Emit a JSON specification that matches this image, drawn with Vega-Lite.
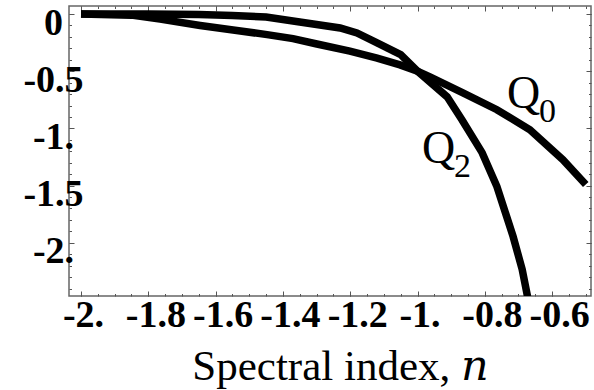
{
  "$schema": "https://vega.github.io/schema/vega-lite/v6.json",
  "width": 522,
  "height": 290,
  "autosize": {"type": "none"},
  "padding": {"left": 69, "top": 6, "right": 3, "bottom": 94},
  "background": "white",
  "config": {
    "view": {"stroke": "#666666", "strokeWidth": 1.5},
    "axis": {
      "domain": false,
      "grid": false,
      "tickColor": "#555555",
      "tickWidth": 1,
      "labelFont": "Liberation Serif",
      "labelFontWeight": "bold",
      "labelFontSize": 38,
      "labelColor": "black",
      "labelOverlap": false,
      "labelFlush": false,
      "labelBound": false,
      "titleFont": "Liberation Serif, DejaVu Serif",
      "titleFontWeight": "normal",
      "titleColor": "black"
    }
  },
  "datasets": {
    "curves": [
      {"n": -2.0, "Q": 0.0, "series": "Q0"},
      {"n": -1.85, "Q": -0.01, "series": "Q0"},
      {"n": -1.765, "Q": -0.045, "series": "Q0"},
      {"n": -1.646, "Q": -0.1, "series": "Q0"},
      {"n": -1.548, "Q": -0.14, "series": "Q0"},
      {"n": -1.447, "Q": -0.18, "series": "Q0"},
      {"n": -1.37, "Q": -0.215, "series": "Q0"},
      {"n": -1.299, "Q": -0.262, "series": "Q0"},
      {"n": -1.201, "Q": -0.325, "series": "Q0"},
      {"n": -1.12, "Q": -0.385, "series": "Q0"},
      {"n": -1.052, "Q": -0.445, "series": "Q0"},
      {"n": -1.0, "Q": -0.5, "series": "Q0"},
      {"n": -0.963, "Q": -0.549, "series": "Q0"},
      {"n": -0.865, "Q": -0.689, "series": "Q0"},
      {"n": -0.764, "Q": -0.837, "series": "Q0"},
      {"n": -0.666, "Q": -1.011, "series": "Q0"},
      {"n": -0.568, "Q": -1.273, "series": "Q0"},
      {"n": -0.5, "Q": -1.49, "series": "Q0"},
      {"n": -2.0, "Q": 0.0, "series": "Q2"},
      {"n": -1.8, "Q": 0.0, "series": "Q2"},
      {"n": -1.65, "Q": -0.005, "series": "Q2"},
      {"n": -1.55, "Q": -0.012, "series": "Q2"},
      {"n": -1.45, "Q": -0.027, "series": "Q2"},
      {"n": -1.35, "Q": -0.07, "series": "Q2"},
      {"n": -1.23, "Q": -0.122, "series": "Q2"},
      {"n": -1.18, "Q": -0.166, "series": "Q2"},
      {"n": -1.12, "Q": -0.253, "series": "Q2"},
      {"n": -1.05, "Q": -0.355, "series": "Q2"},
      {"n": -1.0, "Q": -0.5, "series": "Q2"},
      {"n": -0.912, "Q": -0.724, "series": "Q2"},
      {"n": -0.868, "Q": -0.924, "series": "Q2"},
      {"n": -0.808, "Q": -1.212, "series": "Q2"},
      {"n": -0.764, "Q": -1.508, "series": "Q2"},
      {"n": -0.716, "Q": -1.944, "series": "Q2"},
      {"n": -0.689, "Q": -2.232, "series": "Q2"},
      {"n": -0.673, "Q": -2.47, "series": "Q2"}
    ],
    "labels": [
      {"n": -0.734, "Q": -0.82, "name": "Q", "sub": "0"},
      {"n": -0.987, "Q": -1.3, "name": "Q", "sub": "2"}
    ]
  },
  "layer": [
    {
      "data": {"name": "curves"},
      "mark": {"type": "line", "color": "black", "strokeWidth": 7.5, "strokeCap": "butt", "clip": true},
      "encoding": {
        "x": {
          "field": "n", "type": "quantitative",
          "scale": {"domain": [-2.0357, -0.4844], "nice": false, "zero": false},
          "axis": {
            "orient": "bottom",
            "values": [-2, -1.8, -1.6, -1.4, -1.2, -1, -0.8, -0.6],
            "tickSize": -5,
            "labelPadding": 5,
            "labelOffset": {"condition": {"test": "datum.value % 1 === 0", "value": 2}, "value": 7},
            "labelBaseline": "top",
            "labelExpr": "datum.value === 0 ? '0' : (datum.value < 0 ? '-' : '') + (abs(datum.value) % 1 === 0 ? format(abs(datum.value), 'd') + '.' : format(abs(datum.value), '.1f'))",
            "title": "Spectral index, 𝑛",
            "titleFontSize": 43,
            "titleX": 271,
            "titleY": 83,
            "titleBaseline": "alphabetic",
            "titleAlign": "center"
          }
        },
        "y": {
          "field": "Q", "type": "quantitative",
          "scale": {"domain": [-2.465, 0.07], "nice": false, "zero": false},
          "axis": {
            "orient": "left",
            "values": [0, -0.5, -1, -1.5, -2],
            "tickSize": -5,
            "labelPadding": 21,
            "labelAlign": "center",
            "labelBaseline": "middle",
            "labelOffset": 9,
            "labelExpr": "datum.value === 0 ? '0' : (datum.value < 0 ? '-' : '') + (abs(datum.value) % 1 === 0 ? format(abs(datum.value), 'd') + '.' : format(abs(datum.value), '.1f'))",
            "title": null
          }
        },
        "detail": {"field": "series"}
      }
    },
    {
      "data": {"name": "curves"},
      "mark": {"type": "point", "opacity": 0},
      "encoding": {
        "x": {
          "field": "n", "type": "quantitative",
          "axis": {
            "orient": "bottom",
            "values": [-2, -1.95, -1.9, -1.85, -1.8, -1.75, -1.7, -1.65, -1.6, -1.55, -1.5, -1.45, -1.4, -1.35, -1.3, -1.25, -1.2, -1.15, -1.1, -1.05, -1, -0.95, -0.9, -0.85, -0.8, -0.75, -0.7, -0.65, -0.6, -0.55, -0.5],
            "tickSize": -2.5, "labels": false, "title": null
          }
        },
        "y": {
          "field": "Q", "type": "quantitative",
          "axis": {
            "orient": "left",
            "values": [0, -0.1, -0.2, -0.3, -0.4, -0.5, -0.6, -0.7, -0.8, -0.9, -1, -1.1, -1.2, -1.3, -1.4, -1.5, -1.6, -1.7, -1.8, -1.9, -2, -2.1, -2.2, -2.3, -2.4],
            "tickSize": -2.5, "labels": false, "title": null
          }
        }
      }
    },
    {
      "data": {"name": "curves"},
      "mark": {"type": "point", "opacity": 0},
      "encoding": {
        "x": {
          "field": "n", "type": "quantitative",
          "axis": {
            "orient": "top",
            "values": [-2, -1.8, -1.6, -1.4, -1.2, -1, -0.8, -0.6],
            "tickSize": -5, "labels": false, "title": null
          }
        },
        "y": {
          "field": "Q", "type": "quantitative",
          "axis": {
            "orient": "right",
            "values": [0, -0.5, -1, -1.5, -2],
            "tickSize": -5, "labels": false, "title": null
          }
        }
      }
    },
    {
      "data": {"name": "curves"},
      "mark": {"type": "point", "opacity": 0},
      "encoding": {
        "x": {
          "field": "n", "type": "quantitative",
          "axis": {
            "orient": "top",
            "values": [-2, -1.95, -1.9, -1.85, -1.8, -1.75, -1.7, -1.65, -1.6, -1.55, -1.5, -1.45, -1.4, -1.35, -1.3, -1.25, -1.2, -1.15, -1.1, -1.05, -1, -0.95, -0.9, -0.85, -0.8, -0.75, -0.7, -0.65, -0.6, -0.55, -0.5],
            "tickSize": -2.5, "labels": false, "title": null
          }
        },
        "y": {
          "field": "Q", "type": "quantitative",
          "axis": {
            "orient": "right",
            "values": [0, -0.1, -0.2, -0.3, -0.4, -0.5, -0.6, -0.7, -0.8, -0.9, -1, -1.1, -1.2, -1.3, -1.4, -1.5, -1.6, -1.7, -1.8, -1.9, -2, -2.1, -2.2, -2.3, -2.4],
            "tickSize": -2.5, "labels": false, "title": null
          }
        }
      }
    },
    {
      "data": {"name": "labels"},
      "mark": {"type": "text", "font": "Liberation Serif", "fontSize": 46, "align": "left", "baseline": "alphabetic", "color": "black"},
      "encoding": {
        "x": {"field": "n", "type": "quantitative", "axis": null},
        "y": {"field": "Q", "type": "quantitative", "axis": null},
        "text": {"field": "name"}
      }
    },
    {
      "data": {"name": "labels"},
      "mark": {"type": "text", "font": "Liberation Serif", "fontSize": 34, "align": "left", "baseline": "alphabetic", "color": "black", "dx": 32, "dy": 14},
      "encoding": {
        "x": {"field": "n", "type": "quantitative", "axis": null},
        "y": {"field": "Q", "type": "quantitative", "axis": null},
        "text": {"field": "sub"}
      }
    }
  ],
  "resolve": {"axis": {"x": "independent", "y": "independent"}}
}
